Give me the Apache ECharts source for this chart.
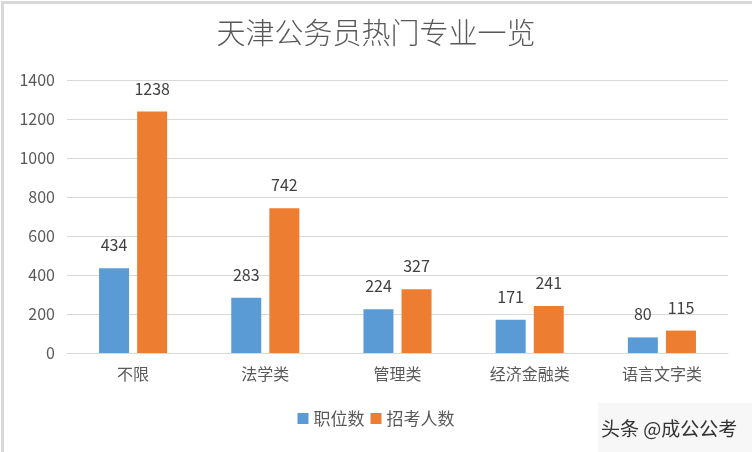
<!DOCTYPE html>
<html><head><meta charset="utf-8">
<script src="https://cdn.jsdelivr.net/npm/echarts@6/dist/echarts.min.js"></script>
<style>html,body{margin:0;padding:0;background:#fff}#c{width:752px;height:452px}</style>
</head><body><div id="c"></div>
<script>
const categories = ['不限','法学类','管理类','经济金融类','语言文字类'];
const positions = [434,283,224,171,80];
const applicants = [1238,742,327,241,115];
const seriesNames = ['职位数','招考人数'];
const font = '"Noto Sans CJK SC", "Microsoft YaHei", sans-serif';
const chart = echarts.init(document.getElementById('c'));
chart.setOption({
  animation:false,
  backgroundColor:'#fff',
  title:{text:'天津公务员热门专业一览',left:'center',top:13,textStyle:{fontFamily:font,fontSize:29,fontWeight:300,color:'#595959'}},
  legend:{bottom:20,left:'center',itemWidth:11,itemHeight:11,itemGap:6,icon:'rect',textStyle:{fontFamily:font,fontSize:17,color:'#595959'},data:seriesNames},
  grid:{left:67,right:24,top:80,bottom:99},
  xAxis:{type:'category',data:categories,axisTick:{show:false},axisLine:{lineStyle:{color:'#d9d9d9'}},
    axisLabel:{fontFamily:font,fontSize:16,color:'#595959',margin:13}},
  yAxis:{type:'value',min:0,max:1400,interval:200,axisLine:{show:false},axisTick:{show:false},
    splitLine:{lineStyle:{color:'#d9d9d9'}},axisLabel:{fontFamily:font,fontSize:16,color:'#595959',margin:12,formatter:v=>String(v)}},
  series:[
    {name:seriesNames[0],type:'bar',data:positions,barWidth:30,barGap:'27%',itemStyle:{color:'#5B9BD5'},
     label:{show:true,position:'top',distance:15,fontFamily:font,fontSize:16,color:'#404040'}},
    {name:seriesNames[1],type:'bar',data:applicants,barWidth:30,itemStyle:{color:'#ED7D31'},
     label:{show:true,position:'top',distance:15,fontFamily:font,fontSize:16,color:'#404040'}}
  ],
  graphic:[
    {type:'rect',left:0,top:0,shape:{width:751,height:451},style:{fill:'none',stroke:'#d9d9d9',lineWidth:3},silent:true},
    {type:'rect',left:598,top:403,shape:{width:154,height:49},style:{fill:'#f7f7f7'},silent:true},
    {type:'text',left:601,top:419,style:{text:'头条 @成公公考',fontFamily:font,fontSize:19,fill:'#333'},silent:true}
  ]
});
</script></body></html>
